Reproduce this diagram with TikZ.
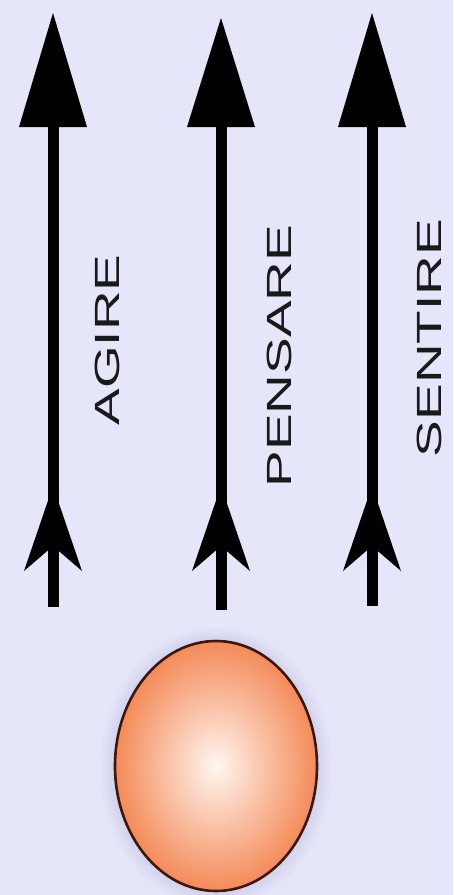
\documentclass[tikz,border=0pt]{standalone}
\usepackage{fontspec}
\setmainfont{Liberation Sans}
\usepackage{graphicx}
\definecolor{bgcol}{RGB}{230,230,250}
\definecolor{ballout}{RGB}{244,138,88}
\definecolor{ballin}{RGB}{255,246,240}
\definecolor{balledge}{RGB}{60,24,10}
\definecolor{halo}{RGB}{170,170,210}
\tikzset{
  shaft/.style={fill=black},
  head/.style={fill=black},
  lab/.style={rotate=90, inner sep=0pt, font=\fontsize{35}{35}\selectfont, text=black!90}
}
\newcommand{\stretchlab}[1]{\scalebox{1.57}[1]{#1}}
\begin{document}
\begin{tikzpicture}[x=1pt,y=-1pt]
\fill[bgcol] (0,0) rectangle (453,895);
\useasboundingbox (0,0) rectangle (453,895);
% arrows
\foreach \c/\t/\b in {53/13/607, 221/18/610, 372/13/606}{
  \fill[shaft] (\c-5.5,120) rectangle (\c+5.5,\b);
  \fill[head] (\c,\t) -- (\c+34,127) -- (\c-34,127) -- cycle;
  \fill[head] (\c,486) -- (\c+29,571) -- (\c,546) -- (\c-29,571) -- cycle;
}
% labels
\node[lab] (agire) at (107.5,340) {\stretchlab{AGIRE}};
\node[lab] (pensare) at (279.5,356) {\stretchlab{PENSARE}};
\node[lab] (sentire) at (429.5,338) {\stretchlab{SENTIRE}};
% ball halo
\foreach \k in {1,...,6}{
  \fill[halo, opacity=0.05] (216,767) ellipse ({101+\k*2.5} and {125+\k*2.5});
}
\draw[balledge, line width=2.6, inner color=ballin, outer color=ballout]
  (216,766) ellipse (101 and 125);
\node[inner sep=0pt] (ball) at (216,766) {};
\end{tikzpicture}
\end{document}
